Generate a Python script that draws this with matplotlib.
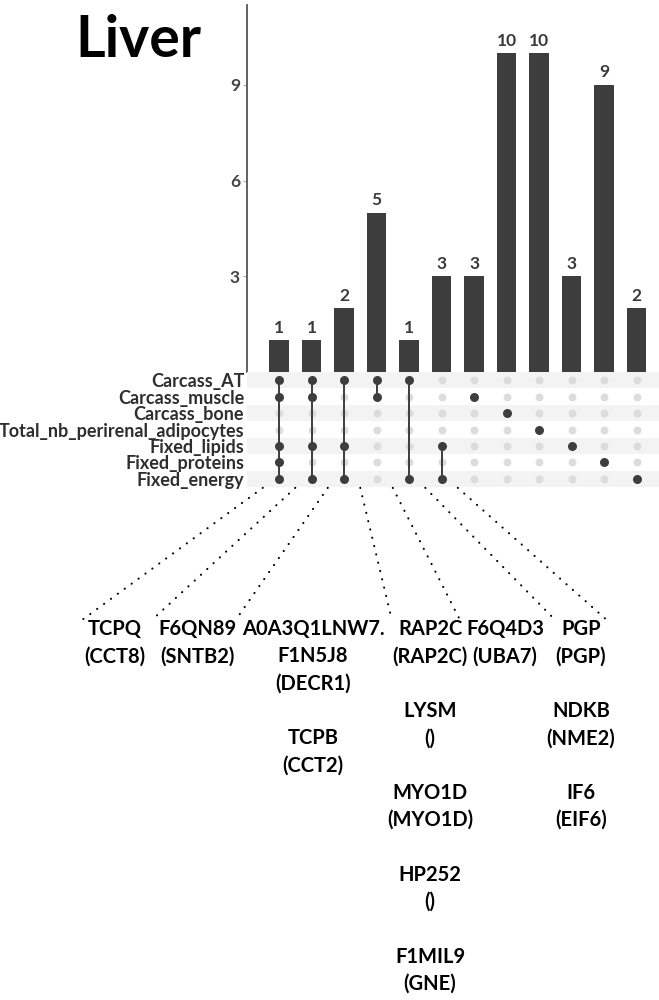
import matplotlib
matplotlib.use("Agg")
import matplotlib.pyplot as plt
from matplotlib.lines import Line2D
import numpy as np

# ---------------- data ----------------
title = "Liver"
sets = ["Carcass_AT", "Carcass_muscle", "Carcass_bone",
        "Total_nb_perirenal_adipocytes", "Fixed_lipids",
        "Fixed_proteins", "Fixed_energy"]
counts = [1, 1, 2, 5, 1, 3, 3, 10, 10, 3, 9, 2]
membership = [
    ["Carcass_AT", "Carcass_muscle", "Fixed_lipids", "Fixed_proteins", "Fixed_energy"],
    ["Carcass_AT", "Carcass_muscle", "Fixed_lipids", "Fixed_energy"],
    ["Carcass_AT", "Fixed_lipids", "Fixed_energy"],
    ["Carcass_AT", "Carcass_muscle"],
    ["Carcass_AT", "Fixed_energy"],
    ["Fixed_lipids", "Fixed_energy"],
    ["Carcass_muscle"],
    ["Carcass_bone"],
    ["Total_nb_perirenal_adipocytes"],
    ["Fixed_lipids"],
    ["Fixed_proteins"],
    ["Fixed_energy"],
]
yticks = [3, 6, 9]

label_groups = [
    [["TCPQ", "(CCT8)"]],
    [["F6QN89", "(SNTB2)"]],
    [["A0A3Q1LNW7.", "F1N5J8", "(DECR1)"], ["TCPB", "(CCT2)"]],
    [["RAP2C", "(RAP2C)"], ["LYSM", "()"], ["MYO1D", "(MYO1D)"],
     ["HP252", "()"], ["F1MIL9", "(GNE)"]],
    [["F6Q4D3", "(UBA7)"]],
    [["PGP", "(PGP)"], ["NDKB", "(NME2)"], ["IF6", "(EIF6)"]],
]
# dotted connectors: intersection column -> label group, side of label
conn_cols = [0, 1, 2, 3, 4, 5, 6]
conn_group = [0, 1, 2, 3, 4, 5, 5]
conn_side = ["left", "left", "left", "left", "left", "left", "right"]

# ---------------- layout ----------------
W, H = 659, 1000
FONT = "Lato"
plt.rcParams["font.family"] = [FONT, "DejaVu Sans"]
fig = plt.figure(figsize=(W / 100, H / 100), dpi=100)
fig.patch.set_facecolor("white")

def fx(px):
    return px / W

def fy(py):
    return 1 - py / H

bar_col = "#3d3d3d"
ax_left, ax_right = 247, 659
bar_top, bar_base = 5, 372
mat_bottom = 487
xlim = (-0.985, 11.69)
px_per_unit = 31.9

ax = fig.add_axes([fx(ax_left), fy(bar_base), (ax_right - ax_left) / W,
                   (bar_base - bar_top) / H])
x = np.arange(len(counts))
ax.bar(x, counts, width=0.6, color=bar_col, zorder=2)
for xi, c in zip(x, counts):
    ax.text(xi, c + 0.14, str(c), ha="center", va="bottom", fontsize=12.5,
            fontweight="bold", color="#3a3a3a")
ax.set_xlim(*xlim)
ax.set_ylim(0, (bar_base - bar_top) / px_per_unit)
ax.set_yticks(yticks)
ax.set_yticklabels([str(t) for t in yticks], fontsize=12.5, fontweight="bold",
                   color="#444444")
ax.tick_params(axis="y", length=3, width=0.8, color="#aaaaaa", pad=2)
ax.set_xticks([])
for s in ["top", "right", "bottom"]:
    ax.spines[s].set_visible(False)
ax.spines["left"].set_color("#555555")
ax.spines["left"].set_linewidth(1.3)

# matrix
mx = fig.add_axes([fx(ax_left), fy(mat_bottom), (ax_right - ax_left) / W,
                   (mat_bottom - bar_base) / H])
mx.set_xlim(*xlim)
mx.set_ylim(len(sets) - 0.5, -0.5)
for r in range(len(sets)):
    if r % 2 == 0:
        mx.axhspan(r - 0.5, r + 0.5, color="#f3f3f3", zorder=0, lw=0)
for ci, mem in enumerate(membership):
    rows = [sets.index(m) for m in mem]
    for r in range(len(sets)):
        if r not in rows:
            mx.scatter(ci, r, s=32, color="#dcdcdc", zorder=2, lw=0)
    if len(rows) > 1:
        mx.plot([ci, ci], [min(rows), max(rows)], color=bar_col, lw=1.4, zorder=3)
    mx.scatter([ci] * len(rows), rows, s=42, color=bar_col, zorder=4, lw=0)
mx.set_yticks(range(len(sets)))
mx.set_yticklabels(sets, fontsize=13, fontweight="bold", color="#2e2e2e")
mx.tick_params(axis="y", length=0, pad=2)
mx.set_xticks([])
for s in mx.spines.values():
    s.set_visible(False)

# title
fig.text(fx(75), fy(57), title, fontsize=41, fontweight="bold", color="black",
         ha="left", va="baseline")

# gene labels
label_x = [115, 197, 313, 430, 505, 581]
first_baseline = 635
line_step = 27.3
first_texts = []
for g, entries in enumerate(label_groups):
    k = 0
    first = None
    for entry in entries:
        for line in entry:
            t = fig.text(fx(label_x[g]), fy(first_baseline + k * line_step), line,
                         ha="center", va="baseline", fontsize=14.5,
                         fontweight="bold", color="black")
            if first is None:
                first = t
            k += 1
        k += 1
    first_texts.append(first)

# dotted connectors
fig.canvas.draw()
renderer = fig.canvas.get_renderer()
inv = fig.transFigure.inverted()
for col, g, side in zip(conn_cols, conn_group, conn_side):
    start = mx.transData.transform((col - 0.5, len(sets) - 0.45))
    bb = first_texts[g].get_window_extent(renderer)
    if side == "left":
        end = (bb.x0 - 6, bb.y1 - 1)
    else:
        end = (bb.x1 + 6, bb.y1 - 1)
    p = inv.transform([start, end])
    fig.add_artist(Line2D(p[:, 0], p[:, 1], transform=fig.transFigure,
                          color="black", lw=1.5, linestyle=(0, (0.1, 4)),
                          dash_capstyle="round"))

fig.savefig("out.png", dpi=100, facecolor="white")
